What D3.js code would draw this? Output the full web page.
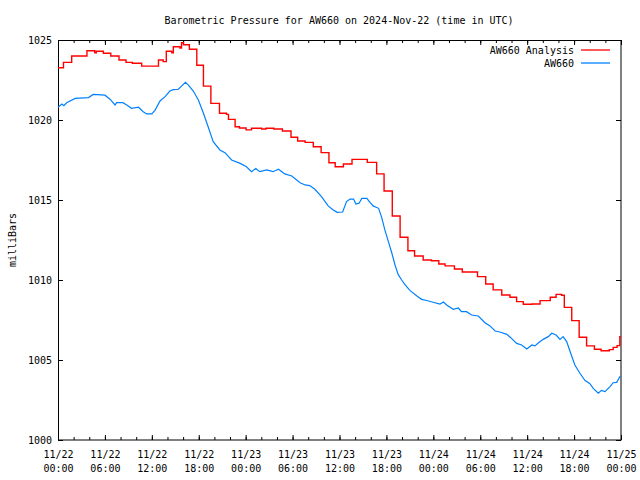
<!DOCTYPE html>
<html><head><meta charset="utf-8">
<script src="https://cdn.jsdelivr.net/npm/d3@7"></script>
<style>
body{margin:0;background:#fff;}
text{font-family:"DejaVu Sans Mono","Liberation Mono",monospace;font-size:10px;fill:#000;}
</style></head>
<body><svg id="c" width="640" height="480"></svg>
<script>
const title = "Barometric Pressure for AW660 on 2024-Nov-22 (time in UTC)";
const yLabel = "milliBars";
const seriesNames = ["AW660 Analysis", "AW660"];
const yTicks = [1000, 1005, 1010, 1015, 1020, 1025];
const startUTC = Date.UTC(2024, 10, 22, 0, 0);

// AW660 Analysis (stepped), hours since start / mb
const analysisHours = [0,0.7,1.75,3.7,4.7,4.9,5.8,6.75,7.8,8.7,9.5,10.7,12.85,13.45,13.85,14.55,14.75,15.6,15.8,16.05,16.8,17.75,18.6,19.55,20.65,21.55,21.8,22.65,23.2,24.05,24.75,26.05,26.6,27.6,28.7,29.8,30.65,31.6,32.65,33.65,34.65,35.45,36.5,37.6,39.55,40.75,41.7,42.75,43.75,44.75,45.6,46.7,47.75,48.7,49.5,50.7,51.7,53.65,54.7,55.65,56.75,57.8,58.65,59.5,60.6,61.65,62.95,63.7,64.4,64.75,65.7,66.65,67.6,68.6,69.45,70.5,71.0,71.5,71.85,72];
const analysisValues = [1023.27,1023.6,1024.0,1024.33,1024.2,1024.3,1024.17,1024.0,1023.75,1023.6,1023.55,1023.37,1023.75,1023.65,1024.3,1024.2,1024.58,1024.5,1024.83,1024.7,1024.42,1023.42,1022.12,1021.04,1020.42,1020.35,1020.04,1019.58,1019.5,1019.38,1019.48,1019.44,1019.48,1019.44,1019.31,1018.92,1018.69,1018.6,1018.33,1017.96,1017.33,1017.08,1017.25,1017.54,1017.35,1016.63,1015.56,1014.0,1012.67,1011.83,1011.5,1011.25,1011.2,1011.0,1010.88,1010.69,1010.5,1010.21,1009.75,1009.38,1009.06,1008.92,1008.65,1008.48,1008.5,1008.71,1008.92,1009.1,1009.05,1008.29,1007.46,1006.42,1005.88,1005.67,1005.58,1005.65,1005.79,1005.9,1006.46,1006.46];

// AW660 observed
const obsHours = [0,0.5,0.75,1.1,2.2,3.9,4.5,6.0,6.65,7.3,7.5,8.3,8.8,9.4,10.3,10.9,11.35,12.0,12.4,13.05,13.7,14.3,14.75,15.4,15.8,16.3,16.65,17.3,17.95,18.6,19.2,19.85,20.7,21.35,22.2,23.3,24.1,24.75,25.3,25.8,26.7,27.5,28.2,29.0,29.9,30.95,31.6,32.2,32.85,33.7,34.55,35.2,35.7,36.4,36.9,37.35,37.8,38.1,38.5,38.85,39.5,39.9,40.3,41.0,41.4,41.8,42.25,42.7,43.1,43.5,43.95,44.4,45.0,45.9,46.5,47.15,48.2,48.85,49.3,49.7,50.55,51.2,51.6,52.25,52.9,53.75,54.6,55.25,55.9,56.5,57.4,58.0,58.65,59.3,59.95,60.6,61.0,61.45,62.05,62.7,63.15,63.7,64.2,64.6,65.05,65.5,66.1,66.75,67.4,68.0,68.45,69.1,69.5,69.95,70.6,71.0,71.45,71.9];
const obsValues = [1020.8,1021.0,1020.9,1021.08,1021.35,1021.4,1021.6,1021.55,1021.3,1020.94,1021.08,1021.08,1020.94,1020.73,1020.8,1020.52,1020.38,1020.38,1020.6,1021.19,1021.46,1021.81,1021.9,1021.92,1022.12,1022.35,1022.2,1021.81,1021.25,1020.42,1019.58,1018.65,1018.13,1017.96,1017.5,1017.29,1017.08,1016.77,1016.97,1016.77,1016.88,1016.77,1016.92,1016.63,1016.5,1016.08,1015.94,1015.9,1015.67,1015.21,1014.63,1014.38,1014.23,1014.25,1014.9,1015.06,1015.06,1014.75,1014.8,1015.1,1015.1,1014.85,1014.63,1014.48,1013.9,1013.13,1012.4,1011.67,1010.94,1010.35,1010.0,1009.69,1009.35,1009.0,1008.79,1008.72,1008.58,1008.5,1008.62,1008.44,1008.17,1008.25,1008.02,1008.02,1007.81,1007.75,1007.33,1007.13,1006.81,1006.75,1006.6,1006.35,1006.04,1005.94,1005.69,1005.94,1005.88,1006.08,1006.29,1006.46,1006.67,1006.56,1006.29,1006.46,1006.15,1005.52,1004.69,1004.17,1003.71,1003.54,1003.23,1002.92,1003.1,1003.02,1003.33,1003.58,1003.6,1004.0];

const colors = ["#ff0000", "#0080ff"];
const m = {left:58, right:19, top:40, bottom:40};
const W = 640 - m.left - m.right, H = 480 - m.top - m.bottom;
const toDate = h => new Date(startUTC + h*3600000);

const svg = d3.select("#c");
const g = svg.append("g").attr("transform", `translate(${m.left},${m.top})`);
const x = d3.scaleUtc().domain([toDate(0), toDate(72)]).range([0, W]);
const y = d3.scaleLinear().domain([1000, 1025]).range([H, 0]);

// axes (ticks inward, mirrored)
const major = d3.utcHour.every(6), minor = d3.utcHour.every(2);
function clean(sel){ sel.select(".domain").remove(); sel.selectAll("line").attr("stroke","#000"); }
g.append("g").attr("transform",`translate(0,${H})`).call(d3.axisBottom(x).ticks(minor).tickSize(-3).tickFormat("")).call(clean);
g.append("g").call(d3.axisTop(x).ticks(minor).tickSize(-3).tickFormat("")).call(clean);
const xb = g.append("g").attr("transform",`translate(0,${H})`).call(d3.axisBottom(x).ticks(major).tickSize(-5).tickPadding(0).tickFormat("")).call(clean);
g.append("g").call(d3.axisTop(x).ticks(major).tickSize(-5).tickFormat("")).call(clean);
xb.selectAll(".tick").each(function(d){
  const t = d3.select(this).append("text").attr("text-anchor","middle");
  t.append("tspan").attr("x",0).attr("y",18).text(d3.utcFormat("%m/%d")(d));
  t.append("tspan").attr("x",0).attr("y",32).text(d3.utcFormat("%H:%M")(d));
});
const yl = g.append("g").call(d3.axisLeft(y).tickValues(yTicks).tickSize(-5).tickPadding(6).tickFormat(d3.format("d"))).call(clean);
yl.selectAll("text").attr("font-family",null).attr("font-size",null);
g.append("g").attr("transform",`translate(${W},0)`).call(d3.axisRight(y).tickValues(yTicks).tickSize(-5).tickFormat("")).call(clean);
xb.attr("font-family",null).attr("font-size",null);

g.append("rect").attr("x",0.5).attr("y",0.5).attr("width",W-0.5).attr("height",H-0.5)
  .attr("fill","none").attr("stroke","#000").attr("stroke-width",1);

// lines
const redData = analysisHours.map((h,i)=>({d:toDate(h), v:analysisValues[i]}));
const blueData = obsHours.map((h,i)=>({d:toDate(h), v:obsValues[i]}));
g.append("path").datum(redData).attr("fill","none").attr("stroke",colors[0]).attr("stroke-width",1.4)
  .attr("d", d3.line().x(p=>x(p.d)).y(p=>y(p.v)).curve(d3.curveStepAfter));
g.append("path").datum(blueData).attr("fill","none").attr("stroke",colors[1]).attr("stroke-width",1.2)
  .attr("d", d3.line().x(p=>x(p.d)).y(p=>y(p.v)));

// legend
seriesNames.forEach((n,i)=>{
  const ly = 10 + i*13;
  g.append("text").attr("x",516).attr("y",ly).attr("dy","0.35em").attr("text-anchor","end").text(n);
  g.append("line").attr("x1",523).attr("x2",552).attr("y1",ly).attr("y2",ly).attr("stroke",colors[i]).attr("stroke-width",1.3);
});

// title and y label
svg.append("text").attr("x",339).attr("y",20).attr("dy","0.35em").attr("text-anchor","middle").text(title);
svg.append("text").attr("transform","translate(12,240) rotate(-90)").attr("dy","0.35em").attr("text-anchor","middle").text(yLabel);
</script></body></html>
